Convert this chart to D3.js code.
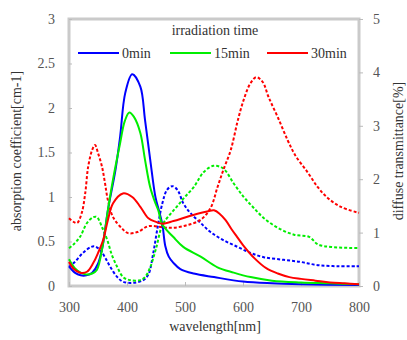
<!DOCTYPE html>
<html><head><meta charset="utf-8">
<script src="https://cdn.jsdelivr.net/npm/d3@7"></script>
<style>html,body{margin:0;padding:0;background:#fff;}svg{display:block;} svg text{font-family:"Liberation Serif","Times New Roman","DejaVu Serif",serif !important;}</style>
</head><body>
<svg id="chart" width="407" height="340"></svg>
<script>
// ---- data ----
const seriesNames = ["0min", "15min", "30min"];
const seriesColors = ["#0000ff", "#00ee00", "#ff0000"];
const xTicks = [300, 400, 500, 600, 700, 800];
const yLeftTicks = [0, 0.5, 1, 1.5, 2, 2.5, 3];
const yRightTicks = [0, 1, 2, 3, 4, 5];

// absorption coefficient (left axis), solid lines: [wavelength, value]
const abs0 = [[300,0.22],[310,0.15],[320,0.12],[330,0.12],[340,0.15],[350,0.25],[358,0.45],[367,0.85],[380,1.3],[388,1.67],[397,2.17],[409,2.38],[423,2.24],[431,1.87],[440,1.42],[449,1.0],[455,0.85],[461,0.69],[466,0.45],[472,0.33],[480,0.26],[492,0.19],[515,0.14],[550,0.1],[600,0.05],[650,0.03],[700,0.02],[800,0.01]];
const abs15 = [[300,0.3],[310,0.2],[320,0.15],[330,0.13],[340,0.14],[348,0.18],[358,0.45],[367,0.85],[376,1.2],[388,1.6],[396,1.85],[404,1.95],[412,1.9],[423,1.72],[431,1.42],[440,1.11],[449,0.93],[454,0.85],[461,0.69],[480,0.55],[497,0.44],[527,0.33],[556,0.21],[584,0.15],[613,0.1],[650,0.06],[700,0.04],[750,0.03],[800,0.02]];
const abs30 = [[300,0.27],[307,0.2],[319,0.15],[331,0.16],[342,0.26],[350,0.37],[359,0.52],[367,0.74],[376,0.93],[393,1.04],[409,1.0],[423,0.89],[437,0.76],[450,0.72],[461,0.7],[480,0.73],[500,0.77],[520,0.81],[540,0.84],[550,0.85],[560,0.81],[570,0.74],[580,0.64],[590,0.55],[600,0.46],[620,0.31],[640,0.2],[660,0.14],[680,0.1],[700,0.08],[725,0.06],[750,0.04],[775,0.03],[800,0.02]];

// diffuse transmittance (right axis), dashed lines: [wavelength, value]
const tr0 = [[300,0.36],[310,0.45],[324,0.62],[338,0.73],[345,0.74],[354,0.67],[362,0.54],[371,0.36],[383,0.17],[393,0.08],[411,0.06],[428,0.11],[437,0.22],[445,0.6],[452,1.05],[461,1.55],[469,1.8],[478,1.87],[487,1.8],[497,1.55],[509,1.37],[527,1.18],[544,1.01],[566,0.86],[591,0.73],[613,0.62],[636,0.54],[670,0.49],[700,0.45],[729,0.39],[764,0.37],[800,0.37]];
const tr15 = [[300,0.71],[307,0.77],[319,0.92],[331,1.18],[342,1.29],[348,1.29],[357,1.1],[366,0.86],[374,0.58],[383,0.36],[393,0.17],[405,0.11],[423,0.11],[432,0.18],[440,0.35],[450,0.7],[461,1.14],[475,1.35],[487,1.5],[500,1.67],[515,1.85],[532,2.13],[549,2.25],[566,2.2],[584,1.92],[601,1.67],[617,1.48],[636,1.27],[660,1.09],[688,0.96],[714,0.92],[729,0.78],[752,0.73],[800,0.71]];
const tr30 = [[300,1.27],[308,1.2],[314,1.18],[322,1.37],[328,1.74],[333,2.23],[340,2.55],[345,2.64],[350,2.49],[357,2.23],[362,1.93],[367,1.61],[376,1.29],[392,1.07],[402,0.99],[418,1.01],[437,1.12],[461,1.1],[480,1.09],[504,1.14],[527,1.24],[544,1.46],[556,1.85],[566,2.17],[579,2.55],[591,3.1],[601,3.48],[613,3.8],[623,3.91],[634,3.82],[644,3.54],[660,3.16],[677,2.73],[690,2.45],[712,2.12],[729,1.85],[746,1.65],[769,1.48],[800,1.37]];

// ---- layout ----
const svg = d3.select("#chart");
const L = 69, R = 359, T = 19, B = 286;
const x = d3.scaleLinear().domain([300, 800]).range([L, R]);
const yL = d3.scaleLinear().domain([0, 3]).range([B, T]);
const yR = d3.scaleLinear().domain([0, 5]).range([B, T]);
const tickCol = "#555";
const frameCol = "#cacaca";

// frame
svg.append("rect").attr("x", L).attr("y", T).attr("width", R - L).attr("height", B - T)
  .attr("fill", "none").attr("stroke", frameCol).attr("stroke-width", 3);

// axes with d3 axis generators
const fmt = d3.format("~g");
const axL = svg.append("g").attr("transform", `translate(${L},0)`)
  .call(d3.axisLeft(yL).tickValues(yLeftTicks).tickSize(4).tickPadding(10).tickFormat(fmt));
const axR = svg.append("g").attr("transform", `translate(${R},0)`)
  .call(d3.axisRight(yR).tickValues(yRightTicks).tickSize(4).tickPadding(10).tickFormat(fmt));
const axB = svg.append("g").attr("transform", `translate(0,${B})`)
  .call(d3.axisBottom(x).tickValues(xTicks).tickSize(4).tickPadding(12).tickFormat(fmt));
[axL, axR, axB].forEach(g => {
  g.select(".domain").remove();
  g.selectAll(".tick line").attr("stroke", "#bbb");
  g.selectAll(".tick text").attr("fill", tickCol).attr("font-size", 14);
});
axB.selectAll(".tick line").attr("y2", -4);
axL.selectAll(".tick line").attr("x2", 3);

// lines
const lineL = d3.line().x(d => x(d[0])).y(d => yL(d[1])).curve(d3.curveCatmullRom.alpha(0.5));
const lineR = d3.line().x(d => x(d[0])).y(d => yR(d[1])).curve(d3.curveCatmullRom.alpha(0.5));
const absData = [abs0, abs15, abs30];
const trData = [tr0, tr15, tr30];
trData.forEach((s, i) => {
  svg.append("path").datum(s).attr("d", lineR).attr("fill", "none")
    .attr("stroke", seriesColors[i]).attr("stroke-width", 2).attr("stroke-dasharray", "3,2");
});
absData.forEach((s, i) => {
  svg.append("path").datum(s).attr("d", lineL).attr("fill", "none")
    .attr("stroke", seriesColors[i]).attr("stroke-width", 2);
});

// legend
svg.append("text").attr("x", 215).attr("y", 35).attr("text-anchor", "middle")
  .attr("font-size", 14).attr("fill", "#333").text("irradiation time");
const legX = [78, 170, 267];
seriesNames.forEach((n, i) => {
  svg.append("line").attr("x1", legX[i]).attr("x2", legX[i] + 41).attr("y1", 53).attr("y2", 53)
    .attr("stroke", seriesColors[i]).attr("stroke-width", 2);
  svg.append("text").attr("x", legX[i] + 44).attr("y", 58)
    .attr("font-size", 14).attr("fill", "#333").text(n);
});

// axis titles
svg.append("text").attr("x", 215).attr("y", 331).attr("text-anchor", "middle")
  .attr("font-size", 14).attr("fill", "#333").text("wavelength[nm]");
svg.append("text").attr("transform", "translate(21,151) rotate(-90)").attr("text-anchor", "middle")
  .attr("font-size", 14).attr("fill", "#333").text("absorption coefficient[cm-1]");
svg.append("text").attr("transform", "translate(403,151) rotate(-90)").attr("text-anchor", "middle")
  .attr("font-size", 14).attr("fill", "#333").text("diffuse transmittance[%]");
</script>
</body></html>
